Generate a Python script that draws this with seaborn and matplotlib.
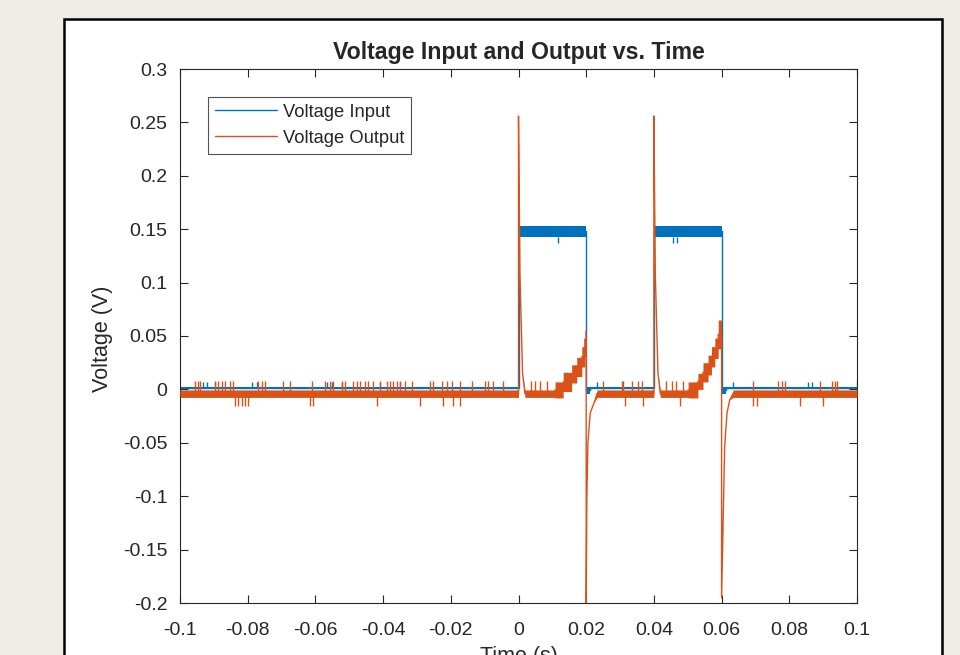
import numpy as np
import pandas as pd
import matplotlib
matplotlib.use("Agg")
import matplotlib.pyplot as plt
from matplotlib.patches import Rectangle
import seaborn as sns

# Input trace: vertices (time, lower edge, upper edge of the noise band)
in_t  = [-0.1, 0.0, 0.0, 0.02, 0.02, 0.0212, 0.0212, 0.04, 0.04, 0.06, 0.06, 0.0612, 0.0612, 0.1]
in_lo = [0.0, 0.0, 0.143, 0.143, -0.004, -0.004, 0.0, 0.0, 0.143, 0.143, -0.004, -0.004, 0.0, 0.0]
in_hi = [0.0025, 0.0025, 0.153, 0.153, 0.0025, 0.0025, 0.0025, 0.0025, 0.153, 0.153, 0.0025, 0.0025, 0.0025, 0.0025]

# Output trace: vertices (time, lower edge, upper edge)
out_t = [-0.1, 0.0,
         0.0, 0.0004, 0.0012, 0.0019, 0.0108,
         0.0108, 0.0132, 0.0132, 0.0157, 0.0157, 0.0172, 0.0172, 0.0187, 0.0187, 0.0196, 0.0196, 0.0200,
         0.0200, 0.0202, 0.0205, 0.0212, 0.0224, 0.0232, 0.0400,
         0.0400, 0.0404, 0.0412, 0.0419, 0.0501,
         0.0501, 0.0530, 0.0530, 0.0545, 0.0545, 0.0560, 0.0560, 0.0570, 0.0570, 0.0580, 0.0580, 0.0590, 0.0590, 0.0600,
         0.0600, 0.0609, 0.0616, 0.0624, 0.0634, 0.1]
out_lo = [-0.0075, -0.0075,
          0.256, 0.11, 0.015, -0.0075, -0.0075,
          -0.008, -0.008, -0.002, -0.002, 0.006, 0.006, 0.012, 0.012, 0.021, 0.021, 0.038, 0.038,
          -0.2, -0.10, -0.05, -0.022, -0.012, -0.0075, -0.0075,
          0.256, 0.11, 0.015, -0.0075, -0.0075,
          -0.008, -0.008, 0.0, 0.0, 0.007, 0.007, 0.0135, 0.0135, 0.021, 0.021, 0.029, 0.029, 0.038, 0.038,
          -0.195, -0.054, -0.022, -0.010, -0.0075, -0.0075]
out_hi = [-0.0005, -0.0005,
          0.256, 0.11, 0.015, -0.0005, -0.0005,
          0.007, 0.007, 0.016, 0.016, 0.023, 0.023, 0.030, 0.030, 0.040, 0.040, 0.056, 0.056,
          -0.2, -0.10, -0.05, -0.022, -0.012, -0.0005, -0.0005,
          0.256, 0.11, 0.015, -0.0005, -0.0005,
          0.007, 0.007, 0.015, 0.015, 0.025, 0.025, 0.032, 0.032, 0.040, 0.040, 0.048, 0.048, 0.065, 0.065,
          -0.195, -0.054, -0.022, -0.010, -0.0005, -0.0005]

# Noise spikes (times) and where they reach
in_up_t = [-0.0931, -0.0921, -0.0897, -0.0788, -0.0773, -0.0567, -0.0552, -0.0522, -0.0409, -0.0350,
           0.0231, 0.0634, 0.0856, 0.0866]
in_up_tip = 0.0065
in_dn_t = [0.0117, 0.0456, 0.0468]   # dips inside the pulses
in_dn_base = 0.143
in_dn_tip = 0.137

out_up_t = [-0.0956, -0.0946, -0.0941, -0.0897, -0.0887, -0.0877, -0.0867, -0.0852, -0.0843, -0.0769,
            -0.0759, -0.0749, -0.0695, -0.0675, -0.0611, -0.0572, -0.0557, -0.0547, -0.0522, -0.0513,
            -0.0488, -0.0478, -0.0468, -0.0453, -0.0444, -0.0429, -0.0409, -0.0389, -0.0380, -0.0370,
            -0.0360, -0.0350, -0.0335, -0.0316, -0.0261, -0.0252, -0.0227, -0.0212, -0.0197, -0.0173,
            -0.0138, -0.0099, -0.0089, -0.0074, -0.0045,
            0.0038, 0.0048, 0.0063, 0.0083,
            0.0250, 0.0305, 0.0309, 0.0334, 0.0353, 0.0364,
            0.0437, 0.0452, 0.0466, 0.0486,
            0.0694, 0.0768, 0.0778, 0.0787, 0.0891, 0.0925, 0.0935, 0.0940, 0.0999]
out_up_tip = 0.0075
out_dn_t = [-0.0838, -0.0828, -0.0818, -0.0808, -0.0798, -0.0616, -0.0606, -0.0419, -0.0291, -0.0222,
            -0.0193, -0.0173, 0.0315, 0.0368, 0.0476, 0.0693, 0.0705, 0.0832, 0.0900]
out_dn_tip = -0.016

xtick_vals = [-0.1, -0.08, -0.06, -0.04, -0.02, 0, 0.02, 0.04, 0.06, 0.08, 0.1]
xtick_labels = ["-0.1", "-0.08", "-0.06", "-0.04", "-0.02", "0", "0.02", "0.04", "0.06", "0.08", "0.1"]
ytick_vals = [0.3, 0.25, 0.2, 0.15, 0.1, 0.05, 0, -0.05, -0.1, -0.15, -0.2]
ytick_labels = ["0.3", "0.25", "0.2", "0.15", "0.1", "0.05", "0", "-0.05", "-0.1", "-0.15", "-0.2"]

BLUE = "#0072BD"
ORANGE = "#D95319"

# ---------- Style ----------
sns.set_style("ticks")
plt.rcParams["font.family"] = ["Liberation Sans", "DejaVu Sans"]
plt.rcParams["axes.unicode_minus"] = False

fig = plt.figure(figsize=(9.6, 6.55), dpi=100, facecolor="#efece6")
fig.add_artist(Rectangle((64 / 960, -0.05), (942 - 64) / 960, 0.971 + 0.05,
                         transform=fig.transFigure, facecolor="white",
                         edgecolor="black", linewidth=1.8, zorder=-1))
ax = fig.add_axes([180 / 960, 52 / 655, 677 / 960, 534 / 655])

df_in = pd.DataFrame({"t": in_t, "lo": in_lo, "hi": in_hi})
df_in["mid"] = (df_in["lo"] + df_in["hi"]) / 2
df_out = pd.DataFrame({"t": out_t, "lo": out_lo, "hi": out_hi})
df_out["mid"] = (df_out["lo"] + df_out["hi"]) / 2

# input
ax.fill_between(df_in["t"], df_in["lo"], df_in["hi"], color=BLUE, linewidth=0, zorder=2)
sns.lineplot(data=df_in, x="t", y="mid", sort=False, estimator=None, color=BLUE,
             linewidth=1.0, label="Voltage Input", ax=ax, zorder=2)
ax.vlines(in_up_t, 0.001, in_up_tip, color=BLUE, linewidth=1.0, zorder=2)
ax.vlines(in_dn_t, in_dn_base, in_dn_tip, color=BLUE, linewidth=1.0, zorder=2)

# output
ax.fill_between(df_out["t"], df_out["lo"], df_out["hi"], color=ORANGE, linewidth=0, zorder=3)
sns.lineplot(data=df_out, x="t", y="mid", sort=False, estimator=None, color=ORANGE,
             linewidth=1.0, label="Voltage Output", ax=ax, zorder=3)
ax.vlines(out_up_t, -0.004, out_up_tip, color=ORANGE, linewidth=1.0, zorder=3)
ax.vlines(out_dn_t, -0.004, out_dn_tip, color=ORANGE, linewidth=1.0, zorder=3)

# ---------- Axes ----------
ax.set_xlim(-0.1, 0.1)
ax.set_ylim(-0.2, 0.3)
ax.set_xticks(xtick_vals, xtick_labels)
ax.set_yticks(ytick_vals, ytick_labels)
ax.tick_params(direction="in", length=6, width=0.8, color="#262626", labelcolor="#262626",
               labelsize=14, top=True, right=True)
ax.tick_params(axis="y", pad=9)
ax.tick_params(axis="x", pad=13.5)
for sp in ax.spines.values():
    sp.set_visible(True)
    sp.set_color("#262626")
    sp.set_linewidth(0.8)

ax.set_title("Voltage Input and Output vs. Time", fontsize=16.7, fontweight="bold", pad=7)
ax.set_xlabel("Time (s)", fontsize=15.5, color="#262626")
ax.set_ylabel("Voltage (V)", fontsize=15.5, color="#262626")
ax.xaxis.set_label_coords(0.5, -0.08)
ax.yaxis.set_label_coords(-0.099, 0.494)

leg = ax.legend(loc="upper left", bbox_to_anchor=(0.041, 0.948), borderaxespad=0,
                fontsize=13.2, frameon=True, fancybox=False, handlelength=3.4,
                handletextpad=0.32, borderpad=0.38, labelspacing=0.5)
leg.get_frame().set_edgecolor("#262626")
leg.get_frame().set_linewidth(0.8)
for line in leg.get_lines():
    line.set_linewidth(1.0)

fig.savefig("out.png", dpi=100, facecolor=fig.get_facecolor())
